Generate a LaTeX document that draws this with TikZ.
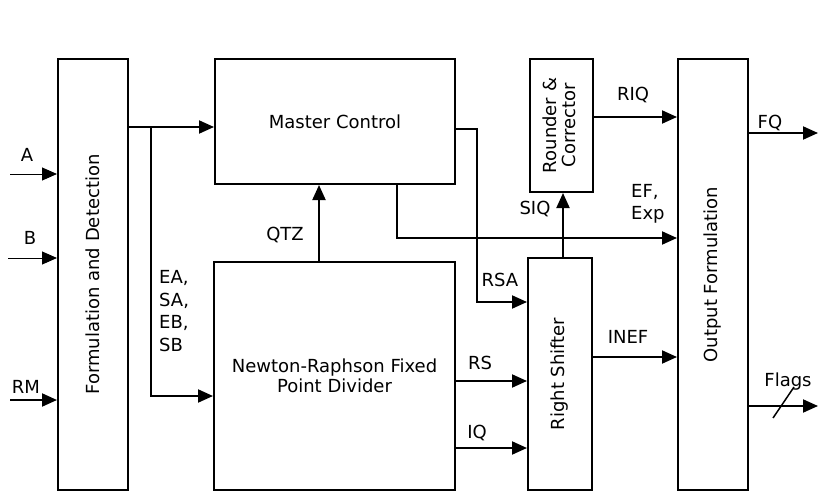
\documentclass[tikz,border=0pt]{standalone}
\usepackage{fontspec}
\setmainfont{DejaVu Sans}
\usetikzlibrary{arrows.meta}
\tikzset{
  box/.style={draw, line width=2pt, rectangle, inner sep=0pt, align=center,
    font=\fontsize{18}{20}\selectfont},
  lbl/.style={inner sep=0pt, font=\fontsize{18}{22.5}\selectfont, align=left},
  conn/.style={line width=2pt, -{Triangle[length=15pt,width=13pt]}},
  thinconn/.style={line width=1pt, -{Triangle[length=15pt,width=13pt]}},
  wire/.style={line width=2pt}
}
\begin{document}
\begin{tikzpicture}[x=1pt,y=-1pt]
\useasboundingbox (0,0) rectangle (819,492);
% boxes
\node[box, minimum width=70pt, minimum height=431pt] (fd) at (93,274.5) {\rotatebox{90}{Formulation and Detection}};
\node[box, minimum width=240pt, minimum height=125pt] (mc) at (335,121.5) {Master Control};
\node[box, minimum width=241pt, minimum height=228pt] (nr) at (334.5,376) {Newton-Raphson Fixed\\Point Divider};
\node[box, minimum width=63pt, minimum height=133pt] (rc) at (561.5,125.5) {\rotatebox{90}{\begin{tabular}{@{}c@{}}Rounder \&\\[-1pt]Corrector\end{tabular}}};
\node[box, minimum width=64pt, minimum height=232pt] (rs) at (560,374) {\rotatebox{90}{Right Shifter}};
\node[box, minimum width=70pt, minimum height=431pt] (of) at (713,274.5) {\rotatebox{90}{Output Formulation}};
% input coordinates
\coordinate (inA) at (10,174);
\coordinate (inB) at (8,258);
\coordinate (inRM) at (10,400);
\coordinate (j1) at (151,127);
\coordinate (outFQ) at (818,133);
\coordinate (outFl) at (818,406);
% inputs
\draw[thinconn] (inA) -- (inA -| fd.west);
\draw[thinconn] (inB) -- (inB -| fd.west);
\draw[conn] (inRM) -- (inRM -| fd.west);
\node[lbl] (lA) at (27,155) {A};
\node[lbl] (lB) at (30,238) {B};
\node[lbl] (lRM) at (26,387) {RM};
% formulation -> master control, NR
\draw[conn] (fd.east |- j1) -- (mc.west |- j1);
\draw[conn] (j1) -- (151,396) -- (nr.west |- 0,396);
\node[lbl, anchor=west] (lEA) at (159,311) {EA,\\SA,\\EB,\\SB};
% QTZ
\draw[conn] (nr.north -| 319,0) -- (mc.south -| 319,0);
\node[lbl] (lQTZ) at (285,235) {QTZ};
% master control -> right shifter (RSA)
\draw[conn] (mc.east |- 0,129) -- (477,129) -- (477,302) -- (rs.west |- 0,302);
\node[lbl] (lRSA) at (500,280) {RSA};
% EF, Exp
\draw[conn] (mc.south -| 397,0) -- (397,238) -- (of.west |- 0,238);
\node[lbl, anchor=west] (lEF) at (631,204) {EF,\\Exp};
% SIQ
\draw[conn] (rs.north -| 563,0) -- (rc.south -| 563,0);
\node[lbl] (lSIQ) at (535,209) {SIQ};
% RIQ
\draw[conn] (rc.east |- 0,117) -- (of.west |- 0,117);
\node[lbl] (lRIQ) at (633,95) {RIQ};
% RS, IQ
\draw[conn] (nr.east |- 0,381) -- (rs.west |- 0,381);
\node[lbl] (lRS) at (480,363) {RS};
\draw[conn] (nr.east |- 0,448) -- (rs.west |- 0,448);
\node[lbl] (lIQ) at (477,433) {IQ};
% INEF
\draw[conn] (rs.east |- 0,357) -- (of.west |- 0,357);
\node[lbl] (lINEF) at (628,337) {INEF};
% outputs
\draw[conn] (of.east |- outFQ) -- (outFQ);
\node[lbl] (lFQ) at (770,123) {FQ};
\draw[conn] (of.east |- outFl) -- (outFl);
\draw[line width=1.5pt] (773,418) -- (794,387);
\node[lbl] (lFl) at (788,382) {Flags};
\end{tikzpicture}
\end{document}
